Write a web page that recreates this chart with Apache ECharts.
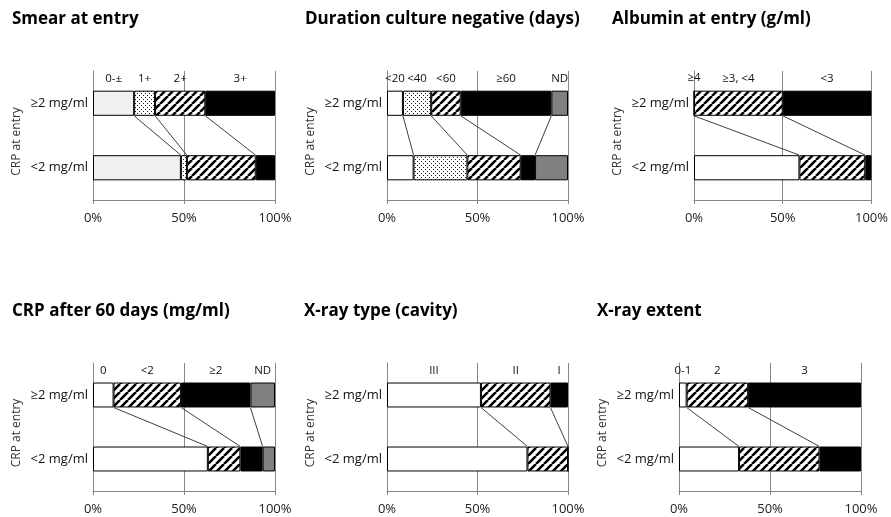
<!DOCTYPE html>
<html><head><meta charset="utf-8">
<script src="https://cdn.jsdelivr.net/npm/echarts@6/dist/echarts.min.js"></script>
<style>html,body{margin:0;padding:0;background:#fff}#c{width:891px;height:517px}</style>
</head><body><div id="c"></div>
<script>
// ---------- data ----------
const rowCats = ['≥2 mg/ml', '<2 mg/ml'];
const yAxisTitle = 'CRP at entry';
const xTickStep = 50;

const smearTitle = 'Smear at entry';
const smearCats = ['0-±', '1+', '2+', '3+'];
const smearHigh = [22.6, 11.5, 27.6, 38.3];
const smearLow  = [48.3, 3.3, 37.8, 10.6];

const cultureTitle = 'Duration culture negative (days)';
const cultureCats = ['<20', '<40', '<60', '≥60', 'ND'];
const cultureHigh = [8.8, 15.6, 16.3, 50.1, 9.2];
const cultureLow  = [14.7, 29.7, 29.5, 7.9, 18.2];

const albuminTitle = 'Albumin at entry (g/ml)';
const albuminCats = ['≥4', '≥3, <4', '<3'];
const albuminHigh = [0, 50.0, 50.0];
const albuminLow  = [59.4, 37.1, 3.5];

const crp60Title = 'CRP after 60 days (mg/ml)';
const crp60Cats = ['0', '<2', '≥2', 'ND'];
const crp60High = [11.3, 37.1, 38.1, 13.5];
const crp60Low  = [63.1, 17.9, 12.2, 6.8];

const xtypeTitle = 'X-ray type (cavity)';
const xtypeCats = ['III', 'II', 'I'];
const xtypeHigh = [51.9, 38.4, 9.7];
const xtypeLow  = [77.6, 22.4, 0];

const xextTitle = 'X-ray extent';
const xextCats = ['0-1', '2', '3'];
const xextHigh = [4.2, 33.8, 62.0];
const xextLow  = [33.0, 44.2, 22.8];

// ---------- styles ----------
function hatchPattern() {
  const c = document.createElement('canvas'); c.width = 8; c.height = 8;
  const g = c.getContext('2d');
  g.fillStyle = '#fff'; g.fillRect(0, 0, 8, 8);
  g.strokeStyle = '#000'; g.lineWidth = 2.6; g.beginPath();
  for (const o of [-8, 0, 8]) { g.moveTo(o, 8); g.lineTo(o + 8, 0); }
  g.stroke();
  return c;
}
function dotPattern() {
  const c = document.createElement('canvas'); c.width = 4; c.height = 4;
  const g = c.getContext('2d');
  g.fillStyle = '#fff'; g.fillRect(0, 0, 4, 4);
  g.fillStyle = '#222'; g.fillRect(1, 1, 1, 1); g.fillRect(3, 3, 1, 1);
  return c;
}
const FILLS = {
  light: '#f0f0f0', white: '#ffffff', black: '#000000', gray: '#808080',
  hatch: { image: hatchPattern(), repeat: 'repeat' },
  dots: { image: dotPattern(), repeat: 'repeat' }
};
const FONT = 'Open Sans';
const BAR_FRAC = 0.39;

const panels = [
  { title: smearTitle, cats: smearCats, high: smearHigh, low: smearLow, fills: ['light','dots','hatch','black'],
    grid: { left: 93, top: 71, width: 182, height: 129 }, tl: 12, tt: 11 },
  { title: cultureTitle, cats: cultureCats, high: cultureHigh, low: cultureLow, fills: ['white','dots','hatch','black','gray'],
    grid: { left: 387, top: 71, width: 181, height: 129 }, tl: 305, tt: 11 },
  { title: albuminTitle, cats: albuminCats, high: albuminHigh, low: albuminLow, fills: ['white','hatch','black'],
    grid: { left: 694, top: 71, width: 181, height: 129 }, tl: 612, tt: 11 },
  { title: crp60Title, cats: crp60Cats, high: crp60High, low: crp60Low, fills: ['white','hatch','black','gray'],
    grid: { left: 93, top: 363, width: 182, height: 128 }, tl: 12, tt: 303 },
  { title: xtypeTitle, cats: xtypeCats, high: xtypeHigh, low: xtypeLow, fills: ['white','hatch','black'],
    grid: { left: 387, top: 363, width: 181, height: 128 }, tl: 304, tt: 303 },
  { title: xextTitle, cats: xextCats, high: xextHigh, low: xextLow, fills: ['white','hatch','black'],
    grid: { left: 679, top: 363, width: 182, height: 128 }, tl: 597, tt: 303 }
];

const titles = [], grids = [], xAxes = [], yAxes = [], series = [];
panels.forEach((p, i) => {
  titles.push({ text: p.title, left: p.tl, top: p.tt, padding: 0,
    textStyle: { fontFamily: FONT, fontSize: 17, fontWeight: 'bold', color: '#000' } });
  grids.push(Object.assign({ containLabel: false }, p.grid));
  xAxes.push({ type: 'value', gridIndex: i, min: 0, max: 100, interval: xTickStep,
    axisLine: { show: true, lineStyle: { color: '#868686', width: 1 } },
    axisTick: { show: true, length: 4, lineStyle: { color: '#868686' } },
    splitLine: { show: true, lineStyle: { color: '#868686', width: 1 } },
    axisLabel: { formatter: '{value}%', fontFamily: FONT, fontSize: 13, color: '#222', margin: 12 } });
  yAxes.push({ type: 'category', gridIndex: i, inverse: true, data: rowCats,
    axisLine: { show: true, lineStyle: { color: '#868686', width: 1 } },
    axisTick: { show: false }, splitLine: { show: false },
    axisLabel: { fontFamily: FONT, fontSize: 13, color: '#111', margin: 5 },
    name: yAxisTitle, nameLocation: 'middle', nameGap: 70, nameRotate: 90,
    nameTextStyle: { fontFamily: FONT, fontSize: 12, color: '#333', padding: [0, 12, 0, 0] } });
  p.cats.forEach((c, k) => {
    series.push({ type: 'bar', name: c, stack: 's' + i, xAxisIndex: i, yAxisIndex: i,
      barWidth: (BAR_FRAC * 100) + '%',
      data: [p.high[k], p.low[k]],
      itemStyle: { color: FILLS[p.fills[k]], borderColor: '#000', borderWidth: 1 },
      label: { show: true, position: 'top', distance: 6, fontFamily: FONT, fontSize: 11.5, color: '#111',
        formatter: q => q.dataIndex === 0 ? q.seriesName : '' },
      silent: true, animation: false });
  });
  // cumulative boundaries between categories for connector lines
  const bounds = [];
  let ch = 0, cl = 0;
  for (let k = 0; k < p.cats.length - 1; k++) {
    ch += p.high[k]; cl += p.low[k];
    bounds.push([ch, cl, 0]);
  }
  series.push({ type: 'custom', xAxisIndex: i, yAxisIndex: i, data: bounds,
    encode: { x: [0, 1], y: 2 }, silent: true, animation: false, z: 3,
    renderItem: (params, api) => {
      const a = api.coord([api.value(0), 0]);
      const b = api.coord([api.value(1), 1]);
      const band = api.size([0, 1])[1];
      const h = band * BAR_FRAC / 2;
      return { type: 'line', shape: { x1: a[0], y1: a[1] + h, x2: b[0], y2: b[1] - h },
        style: { stroke: '#404040', lineWidth: 1 } };
    } });
});

const chart = echarts.init(document.getElementById('c'), null, { renderer: 'canvas' });
chart.setOption({ backgroundColor: '#fff', animation: false, title: titles, grid: grids,
  xAxis: xAxes, yAxis: yAxes, series: series });
</script>
</body></html>
